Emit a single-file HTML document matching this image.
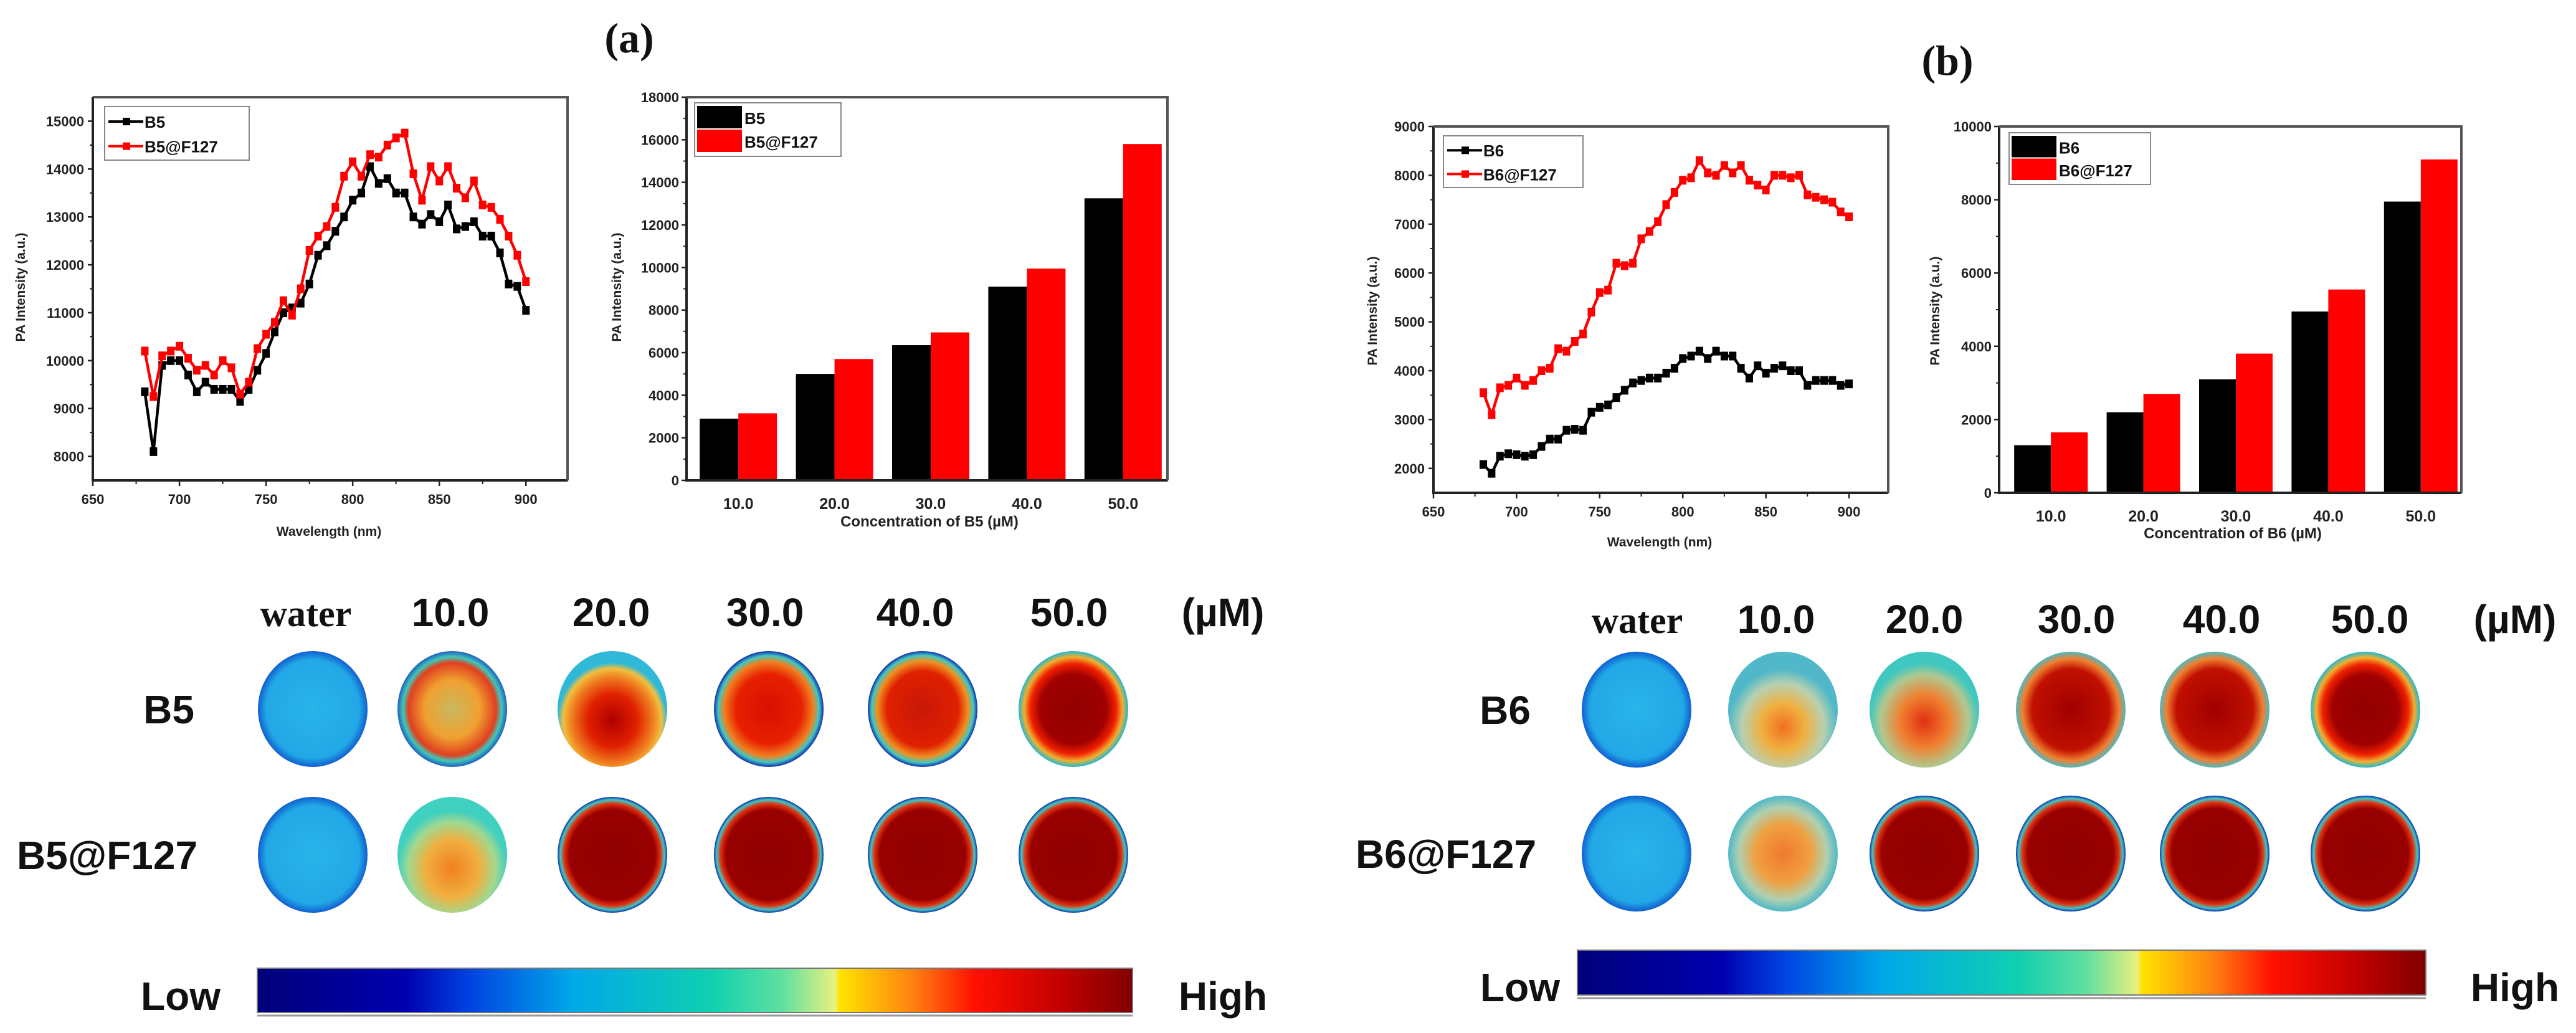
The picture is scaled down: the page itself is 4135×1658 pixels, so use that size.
<!DOCTYPE html>
<html><head><meta charset="utf-8">
<style>
html,body{margin:0;padding:0;background:#fff;}
svg{display:block;}
.tk{font-family:"Liberation Sans Narrow","Liberation Sans",sans-serif;font-weight:bold;font-size:22px;fill:#222;}
.ax{font-family:"Liberation Sans",sans-serif;font-weight:bold;font-size:21px;fill:#222;}
.lg{font-family:"Liberation Sans Narrow","Liberation Sans",sans-serif;font-weight:bold;font-size:26px;fill:#111;}
.hd{font-family:"Liberation Sans Narrow","Liberation Sans",sans-serif;font-weight:bold;font-size:64px;fill:#111;}
.hw{font-family:"Liberation Serif",serif;font-weight:bold;font-size:60px;fill:#111;}
.pl{font-family:"Liberation Serif",serif;font-weight:bold;font-size:68px;fill:#111;}
</style></head>
<body>
<svg id="fig" xmlns="http://www.w3.org/2000/svg" width="4135" height="1658" viewBox="0 0 4135 1658">
<defs>
<linearGradient id="jet" x1="0" x2="1" y1="0" y2="0">
<stop offset="0" stop-color="#00007a"/><stop offset="0.17" stop-color="#0000b0"/><stop offset="0.24" stop-color="#0040e0"/>
<stop offset="0.36" stop-color="#00a8e8"/><stop offset="0.52" stop-color="#10d0b0"/><stop offset="0.6" stop-color="#60e0a0"/>
<stop offset="0.66" stop-color="#e8f080"/><stop offset="0.665" stop-color="#ffe400"/><stop offset="0.75" stop-color="#ff8010"/>
<stop offset="0.82" stop-color="#ff1000"/><stop offset="0.92" stop-color="#c00000"/><stop offset="1" stop-color="#800000"/>
</linearGradient>
<radialGradient id="gWater"><stop offset="0" stop-color="#2ab4ea"/><stop offset="0.85" stop-color="#22a8e6"/><stop offset="1" stop-color="#1060d0"/></radialGradient>
<radialGradient id="gA1"><stop offset="0" stop-color="#c8b860"/><stop offset="0.5" stop-color="#f0a030"/><stop offset="0.8" stop-color="#e04020"/><stop offset="0.9" stop-color="#40c8b8"/><stop offset="1" stop-color="#2060c0"/></radialGradient>
<radialGradient id="gA2" cy="0.6"><stop offset="0" stop-color="#b00000"/><stop offset="0.45" stop-color="#e02000"/><stop offset="0.75" stop-color="#f08020"/><stop offset="0.9" stop-color="#f0c040"/><stop offset="1" stop-color="#30b8d8"/></radialGradient>
<radialGradient id="gA3"><stop offset="0" stop-color="#d81000"/><stop offset="0.6" stop-color="#e82000"/><stop offset="0.82" stop-color="#f08020"/><stop offset="0.92" stop-color="#40c8c0"/><stop offset="1" stop-color="#1030b0"/></radialGradient>
<radialGradient id="gA4"><stop offset="0" stop-color="#c81808"/><stop offset="0.65" stop-color="#e02000"/><stop offset="0.83" stop-color="#f09020"/><stop offset="0.93" stop-color="#40c8c0"/><stop offset="1" stop-color="#1030b0"/></radialGradient>
<radialGradient id="gA5"><stop offset="0" stop-color="#900000"/><stop offset="0.6" stop-color="#a00000"/><stop offset="0.78" stop-color="#f02000"/><stop offset="0.9" stop-color="#f0b030"/><stop offset="1" stop-color="#20b8d0"/></radialGradient>
<radialGradient id="gF1" cy="0.62"><stop offset="0" stop-color="#f08020"/><stop offset="0.5" stop-color="#f0b040"/><stop offset="0.8" stop-color="#a0d890"/><stop offset="1" stop-color="#40d0c0"/></radialGradient>
<radialGradient id="gFd"><stop offset="0" stop-color="#900000"/><stop offset="0.78" stop-color="#980000"/><stop offset="0.88" stop-color="#e03010"/><stop offset="0.95" stop-color="#40c8c0"/><stop offset="1" stop-color="#1030b0"/></radialGradient>
<radialGradient id="gB1" cy="0.65"><stop offset="0" stop-color="#f07020"/><stop offset="0.4" stop-color="#f0b040"/><stop offset="0.75" stop-color="#b8d0b0"/><stop offset="1" stop-color="#50b8c8"/></radialGradient>
<radialGradient id="gB2" cy="0.6"><stop offset="0" stop-color="#e03010"/><stop offset="0.45" stop-color="#f08030"/><stop offset="0.8" stop-color="#b0c890"/><stop offset="1" stop-color="#40c8c0"/></radialGradient>
<radialGradient id="gB3"><stop offset="0" stop-color="#a00000"/><stop offset="0.7" stop-color="#c01000"/><stop offset="0.88" stop-color="#f08030"/><stop offset="1" stop-color="#50b8c0"/></radialGradient>
<radialGradient id="gBF1"><stop offset="0" stop-color="#f07830"/><stop offset="0.5" stop-color="#f0a040"/><stop offset="0.8" stop-color="#b0d0b0"/><stop offset="1" stop-color="#50b8c8"/></radialGradient>
</defs>
<g id="root"></g>
</svg>
<script>
// ---------- chart data ----------
const waveLengths = [680,685,690,695,700,705,710,715,720,725,730,735,740,745,750,755,760,765,770,775,780,785,790,795,800,805,810,815,820,825,830,835,840,845,850,855,860,865,870,875,880,885,890,895,900];
const b5Line = [9350,8100,9900,10000,10000,9700,9350,9550,9400,9400,9400,9150,9400,9800,10150,10600,11000,11100,11200,11600,12200,12400,12700,13000,13350,13500,14050,13700,13800,13500,13500,13000,12850,13050,12900,13250,12750,12800,12900,12600,12600,12250,11600,11550,11050];
const b5F127Line = [10200,9250,10100,10200,10300,10050,9800,9900,9700,10000,9850,9300,9550,10250,10550,10800,11250,10950,11500,12300,12600,12800,13200,13850,14150,13850,14300,14250,14500,14650,14750,13900,13350,14050,13750,14050,13600,13400,13750,13250,13200,12950,12600,12200,11650];
const b6Line = [2080,1900,2250,2300,2280,2250,2280,2450,2600,2600,2780,2800,2780,3150,3250,3300,3450,3600,3750,3800,3850,3850,3950,4050,4250,4300,4400,4250,4400,4300,4300,4050,3850,4100,3950,4050,4100,4000,4000,3700,3800,3800,3800,3700,3730];
const b6F127Line = [3550,3100,3650,3700,3850,3700,3800,4000,4050,4450,4400,4600,4750,5200,5600,5650,6200,6150,6200,6700,6850,7050,7400,7650,7900,7950,8300,8050,8000,8200,8050,8200,7900,7800,7700,8000,8000,7950,8000,7600,7550,7500,7450,7250,7150];
const concCats = ["10.0","20.0","30.0","40.0","50.0"];
const b5Bars = [2900,5000,6350,9100,13250];
const b5F127Bars = [3150,5700,6950,9950,15800];
const b6Bars = [1300,2200,3100,4950,7950];
const b6F127Bars = [1650,2700,3800,5550,9100];
const waveTicks = [650,700,750,800,850,900];
const yTicksA = [8000,9000,10000,11000,12000,13000,14000,15000];
const yTicksABar = [0,2000,4000,6000,8000,10000,12000,14000,16000,18000];
const yTicksB = [2000,3000,4000,5000,6000,7000,8000,9000];
const yTicksBBar = [0,2000,4000,6000,8000,10000];

const NS = "http://www.w3.org/2000/svg";
const root = document.getElementById('root');
function mk(tag, attrs, parent, txt){
  const e = document.createElementNS(NS, tag);
  for (const k in attrs) e.setAttribute(k, attrs[k]);
  if (txt !== undefined) e.textContent = txt;
  (parent || root).appendChild(e);
  return e;
}
function lin(d0,d1,r0,r1){ return v => r0 + (v-d0)*(r1-r0)/(d1-d0); }

function frame(g, x0,y0,x1,y1){
  const f = mk('rect',{x:x0,y:y0,width:x1-x0,height:y1-y0,fill:'none',stroke:'#333','stroke-width':2},g);
  
  
  const ax = mk('path',{d:`M${x0} ${y0} V${y1} H${x1}`,fill:'none',stroke:'#222','stroke-width':4},g);
  
  
  const tp = mk('path',{d:`M${x0} ${y0} H${x1} V${y1}`,fill:'none',stroke:'#555','stroke-width':4},g);
  
  
}
function yTicks(g, ticks, ys, x0, labX, minor){
  ticks.forEach(t=>{
    const y = ys(t);
    const l = mk('line',{x1:x0-8,x2:x0,y1:y,y2:y,stroke:'#222','stroke-width':2.5},g);
    
    
    const tx = mk('text',{x:labX,y:y+8,'text-anchor':'end',class:'tk'},g,String(t));
    
    
  });
  if (minor) for(let i=0;i<ticks.length-1;i++){
    const y = ys((ticks[i]+ticks[i+1])/2);
    const l = mk('line',{x1:x0-5,x2:x0,y1:y,y2:y,stroke:'#222','stroke-width':2},g);
    
    
  }
}
function yTitle(g, x, y){
  const t = mk('text',{x:x,y:y,transform:`rotate(-90 ${x} ${y})`,'text-anchor':'middle',class:'ax'},g,'PA Intensity (a.u.)');
  
  
}
function lineLegend(g, x,y,w,h, labels){
  const b = mk('rect',{x:x,y:y,width:w,height:h,fill:'#fff',stroke:'#888','stroke-width':2},g);
  
  
  const cols=['#000','#f00'];
  labels.forEach((lab,i)=>{
    const yy = y + h*0.28 + i*h*0.46;
    const ln = mk('line',{x1:x+6,x2:x+62,y1:yy,y2:yy,stroke:cols[i],'stroke-width':4},g);
    
    
    const mkr = mk('rect',{x:x+29,y:yy-6,width:12,height:12,fill:cols[i]},g);
    
    
    const t = mk('text',{x:x+64,y:yy+10,class:'lg'},g,lab);
    
    
  });
}
function barLegend(g, x,y,w,h, labels){
  const b = mk('rect',{x:x,y:y,width:w,height:h,fill:'#fff',stroke:'#888','stroke-width':2},g);
  
  
  const cols=['#000','#f00'];
  labels.forEach((lab,i)=>{
    const sy = y + 5 + i*(h-10)/2;
    const sw = mk('rect',{x:x+4,y:sy,width:72,height:(h-10)/2-2,fill:cols[i]},g);
    
    
    const t = mk('text',{x:x+80,y:sy+(h-10)/4+10,class:'lg'},g,lab);
    
    
  });
}
function lineChart(name, box, xd, yd, yt, series, legend, titleX){
  const g = mk('g',{});
  
  
  const xs = lin(xd[0],xd[1],box.x0,box.x1), ys = lin(yd[0],yd[1],box.y1,box.y0);
  series.forEach((s,si)=>{
    const pts = waveLengths.map((w,i)=>xs(w).toFixed(1)+','+ys(s.v[i]).toFixed(1)).join(' ');
    const p = mk('polyline',{points:pts,fill:'none',stroke:s.c,'stroke-width':4.5},g);
    
    
    waveLengths.forEach((w,i)=>{
      const m = mk('rect',{x:xs(w)-6,y:ys(s.v[i])-7,width:12,height:14,fill:s.c},g);
      
      
    });
  });
  frame(g, box.x0,box.y0,box.x1,box.y1);
  waveTicks.forEach(t=>{
    const x = xs(t);
    const l = mk('line',{x1:x,x2:x,y1:box.y1,y2:box.y1+9,stroke:'#222','stroke-width':2.5},g);
    
    
    const tx = mk('text',{x:x,y:box.y1+38,'text-anchor':'middle',class:'tk'},g,String(t));
    
    
    const mx = xs(t+25);
    if (mx < box.x1) {
      const m = mk('line',{x1:mx,x2:mx,y1:box.y1,y2:box.y1+6,stroke:'#222','stroke-width':2},g);
      
      
    }
  });
  yTicks(g, yt, ys, box.x0, box.x0-14, true);
  const xt = mk('text',{x:titleX.x,y:titleX.y,'text-anchor':'middle',class:'ax'},g,'Wavelength (nm)');
  
  
  yTitle(g, legend.yx, legend.yy);
  lineLegend(g, legend.x,legend.y,legend.w,legend.h, legend.labels);
}
function barChart(name, box, ymax, yt, s1, s2, bw, shift, legend, xtitle){
  const g = mk('g',{});
  
  
  const ys = lin(0,ymax,box.y1,box.y0);
  const band = (box.x1-box.x0)/concCats.length;
  concCats.forEach((c,i)=>{
    const cx = box.x0 + band*(i+0.5) + shift;
    const r1 = mk('rect',{x:cx-bw,y:ys(s1[i]),width:bw,height:box.y1-ys(s1[i]),fill:'#000'},g);
    
    
    const r2 = mk('rect',{x:cx,y:ys(s2[i]),width:bw,height:box.y1-ys(s2[i]),fill:'#f00'},g);
    
    
    const tx = mk('text',{x:cx,y:box.y1+46,'text-anchor':'middle',class:'tk',style:'font-size:25px'},g,c);
    
    
  });
  frame(g, box.x0,box.y0,box.x1,box.y1);
  yTicks(g, yt, ys, box.x0, box.x0-12, true);
  const xt = mk('text',{x:xtitle.x,y:xtitle.y,'text-anchor':'middle',class:'ax',style:'font-size:24px'},g,xtitle.t);
  
  
  yTitle(g, legend.yx, legend.yy);
  barLegend(g, legend.x,legend.y,legend.w,legend.h, legend.labels);
}

lineChart('chart-a-spectrum',{x0:149,x1:911,y0:156,y1:771},[650,924],[7500,15500],yTicksA,
  [{n:'b5',c:'#000',v:b5Line},{n:'b5-f127',c:'#f00',v:b5F127Line}],
  {x:168,y:171,w:232,h:86,labels:['B5','B5@F127'],yx:40,yy:461},{x:528,y:860});
barChart('chart-a-bars',{x0:1102,x1:1874,y0:156,y1:771},18000,yTicksABar,b5Bars,b5F127Bars,62,6,
  {x:1115,y:165,w:235,h:86,labels:['B5','B5@F127'],yx:997,yy:461},{x:1492,y:845,t:'Concentration of B5 (µM)'});
lineChart('chart-b-spectrum',{x0:2301,x1:3031,y0:203,y1:791},[650,923.6],[1500,9000],yTicksB,
  [{n:'b6',c:'#000',v:b6Line},{n:'b6-f127',c:'#f00',v:b6F127Line}],
  {x:2317,y:218,w:224,h:83,labels:['B6','B6@F127'],yx:2210,yy:499},{x:2664,y:877});
barChart('chart-b-bars',{x0:3209,x1:3951,y0:203,y1:791},10000,yTicksBBar,b6Bars,b6F127Bars,59,9,
  {x:3225,y:213,w:227,h:83,labels:['B6','B6@F127'],yx:3113,yy:499},{x:3584,y:864,t:'Concentration of B6 (µM)'});

// ---------- imaging panels ----------
function txt(x,y,cls,s,name,anchor){
  const t = mk('text',{x:x,y:y,class:cls,'text-anchor':anchor||'middle'},root,s);
  
  
  return t;
}
txt(1010,84,'pl','(a)','panel-label-a');
txt(3126,120,'pl','(b)','panel-label-b');

const headA = [491,723,981,1228,1469,1716,1963];
const headB = [2628,2851,3089,3333,3566,3804,4037];
const headers = ['water','10.0','20.0','30.0','40.0','50.0','(µM)'];
headers.forEach((h,i)=>{
  txt(headA[i],1005,i===0?'hw':'hd',h,'column-header-a');
  txt(headB[i],1016,i===0?'hw':'hd',h,'column-header-b');
});
txt(271,1161,'hd','B5','row-label-b5');
txt(172,1395,'hd','B5@F127','row-label-b5-f127');
txt(2416,1162,'hd','B6','row-label-b6');
txt(2321,1393,'hd','B6@F127','row-label-b6-f127');

const wellXA = [502,726,983,1234,1481,1723];
const wellXB = [2627,2862,3089,3324,3555,3797];
const rowsA = [{y:1138,f:['gWater','gA1','gA2','gA3','gA4','gA5']},{y:1372,f:['gWater','gF1','gFd','gFd','gFd','gFd']}];
const rowsB = [{y:1139,f:['gWater','gB1','gB2','gB3','gB3','gA5']},{y:1370,f:['gWater','gBF1','gFd','gFd','gFd','gFd']}];
function wells(xs, rows, tag){
  rows.forEach((r,ri)=>xs.forEach((x,i)=>{
    const c = mk('ellipse',{cx:x,cy:r.y,rx:88,ry:93,fill:'url(#'+r.f[i]+')'});
    
    
  }));
}
wells(wellXA, rowsA, 'a');
wells(wellXB, rowsB, 'b');

function colorbar(x0,x1,y0,y1,lowX,highX,ty,tag){
  const r = mk('rect',{x:x0,y:y0,width:x1-x0,height:y1-y0,fill:'url(#jet)',stroke:'#777','stroke-width':2});
  
  
  const l = mk('line',{x1:x0,x2:x1,y1:y1+5,y2:y1+5,stroke:'#999','stroke-width':3});
  
  
  txt(lowX,ty,'hd','Low','colorbar-low-label');
  txt(highX,ty,'hd','High','colorbar-high-label');
}
colorbar(413,1818,1554,1625,290,1963,1621,'a');
colorbar(2532,3894,1525,1597,2440,4037,1607,'b');
</script>
</body></html>
